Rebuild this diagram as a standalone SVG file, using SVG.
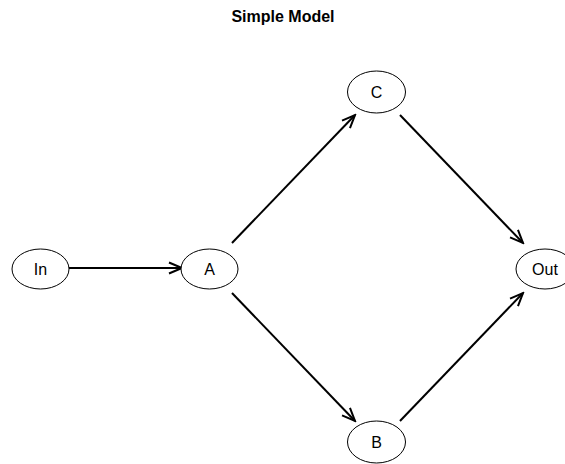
<svg xmlns="http://www.w3.org/2000/svg" width="565" height="464" viewBox="0 0 565 464">
  <style>
    .node ellipse { fill: #ffffff; stroke: #000000; stroke-width: 1; }
    .node text { font-family: "Liberation Sans", Arial, sans-serif; font-size: 16px; fill: #000000; text-anchor: middle; dominant-baseline: central; }
    .edge { stroke: #000000; stroke-width: 2; fill: none; marker-end: url(#arrow); }
    .title { font-family: "Liberation Sans", Arial, sans-serif; font-size: 16px; font-weight: bold; text-anchor: middle; }
  </style>
  <defs>
    <marker id="arrow" markerUnits="userSpaceOnUse" viewBox="-14 -7 16 14" markerWidth="16" markerHeight="14" refX="0" refY="0" orient="auto">
      <path d="M -13,-5.5 L 0,0 L -13,5.5" fill="none" stroke="#000000" stroke-width="2"/>
    </marker>
  </defs>
  <rect width="565" height="464" fill="#ffffff"/>
  <text class="title" x="283" y="22">Simple Model</text>

  <g id="edges">
    <line class="edge" x1="69" y1="268" x2="182" y2="268"/>
    <line class="edge" x1="232" y1="243" x2="355" y2="115"/>
    <line class="edge" x1="232" y1="293" x2="355" y2="421"/>
    <line class="edge" x1="400" y1="115" x2="523" y2="243"/>
    <line class="edge" x1="400" y1="421" x2="523" y2="293"/>
  </g>

  <g id="node-in" class="node">
    <ellipse cx="40.5" cy="269" rx="28.5" ry="20"/>
    <text x="40.5" y="269">In</text>
  </g>
  <g id="node-a" class="node">
    <ellipse cx="209.5" cy="269" rx="28.5" ry="20"/>
    <text x="209.5" y="269">A</text>
  </g>
  <g id="node-c" class="node">
    <ellipse cx="376.5" cy="92" rx="29" ry="21"/>
    <text x="376.5" y="92">C</text>
  </g>
  <g id="node-b" class="node">
    <ellipse cx="376.5" cy="442" rx="29" ry="21"/>
    <text x="376.5" y="442">B</text>
  </g>
  <g id="node-out" class="node">
    <ellipse cx="545" cy="269" rx="29" ry="20"/>
    <text x="545" y="269">Out</text>
  </g>
</svg>
